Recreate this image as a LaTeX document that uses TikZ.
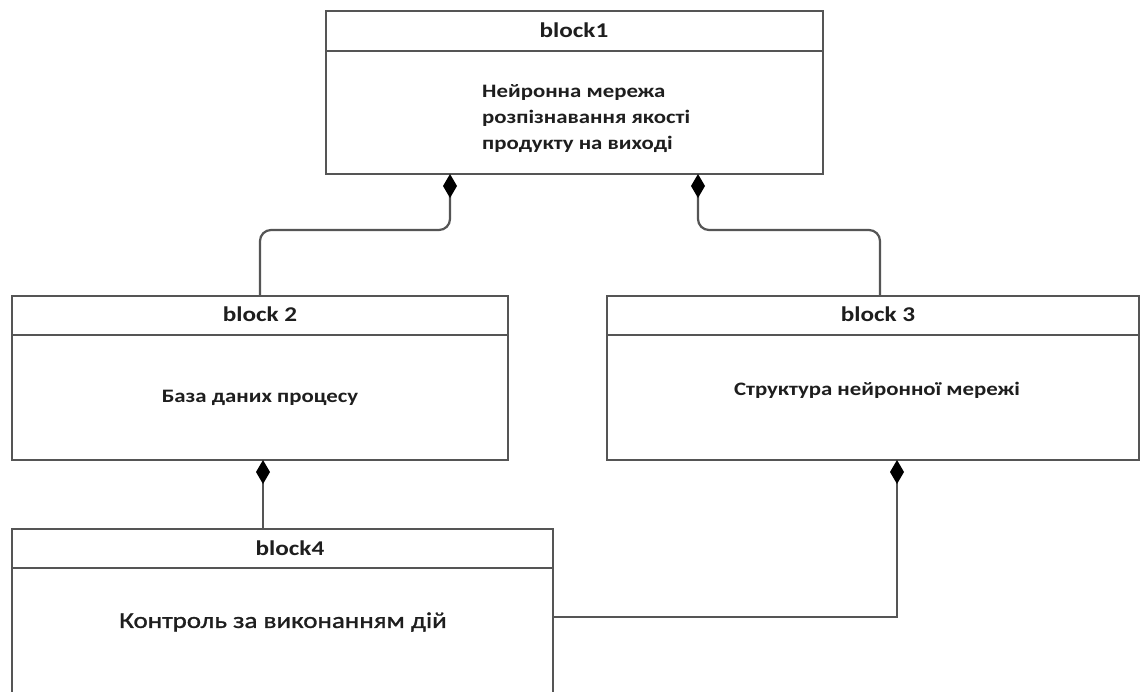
\documentclass[tikz,border=0pt]{standalone}
\usepackage{fontspec}
\setmainfont{Carlito}
\newfontfamily\cf[FakeStretch=1.2]{Carlito}
\newfontfamily\cfm[FakeStretch=1.2,FakeBold=1.3]{Carlito}
\usetikzlibrary{arrows.meta}
\definecolor{linegray}{HTML}{555555}
\definecolor{txt}{HTML}{1E1E1E}
\begin{document}
\begin{tikzpicture}[x=1pt,y=-1pt,
  blk/.style={draw=linegray, line width=2.2pt, inner sep=0pt, outer sep=0pt, anchor=north west},
  divider/.style={draw=linegray, line width=2.2pt},
  hdr/.style={text=txt, font=\cf\bfseries\fontsize{21}{24}\selectfont, inner sep=0pt},
  body/.style={text=txt, font=\cf\bfseries\fontsize{19}{26}\selectfont, inner sep=0pt},
  bigbody/.style={text=txt, font=\cfm\fontsize{22.5}{26}\selectfont, inner sep=0pt},
  conn/.style={draw=linegray, line width=2.2pt},
  comp/.style={{Diamond[length=24pt,width=14pt,color=black]}-}
]
\useasboundingbox (0,0) rectangle (1142,691);
\fill[white] (0,0) rectangle (1142,691);
\clip (0,0) rectangle (1142,691);

% blocks
\node[blk, minimum width=497pt, minimum height=163pt] (b1) at (326,11) {};
\node[blk, minimum width=496pt, minimum height=164pt] (b2) at (12,296) {};
\node[blk, minimum width=532pt, minimum height=164pt] (b3) at (607,296) {};
\node[blk, minimum width=541pt, minimum height=175pt] (b4) at (12,529) {};

% header dividers
\draw[divider] (b1.west |- 0,51) -- (b1.east |- 0,51);
\draw[divider] (b2.west |- 0,335) -- (b2.east |- 0,335);
\draw[divider] (b3.west |- 0,335) -- (b3.east |- 0,335);
\draw[divider] (b4.west |- 0,568) -- (b4.east |- 0,568);

% texts
\node[hdr] (h1) at (574,30) {block1};
\node[hdr] (h2) at (260,314) {block 2};
\node[hdr] (h3) at (878,314) {block 3};
\node[hdr] (h4) at (290,548) {block4};

\node[body, align=left, anchor=north west] (t1) at (482,84) {Нейронна мережа\\розпізнавання якості\\продукту на виході};
\node[body] (t2) at (260,398) {База даних процесу};
\node[body] (t3) at (877,390) {Структура нейронної мережі};
\node[bigbody] (t4) at (283,622) {Контроль за виконанням дій};

% connector points
\coordinate (p1) at (450,230);
\coordinate (q1) at (260,230);
\coordinate (p2) at (698,230);
\coordinate (q2) at (880,230);
\coordinate (p3) at (263,460);
\coordinate (p4) at (897,617);

% connectors
\draw[conn, comp, rounded corners=11pt] (b1.south -| p1) -- (p1) -- (q1) -- (b2.north -| q1);
\draw[conn, comp, rounded corners=11pt] (b1.south -| p2) -- (p2) -- (q2) -- (b3.north -| q2);
\draw[conn, comp] (b2.south -| p3) -- (b4.north -| p3);
\draw[conn, comp] (b3.south -| p4) -- (p4) -- (b4.east |- p4);
\end{tikzpicture}
\end{document}
